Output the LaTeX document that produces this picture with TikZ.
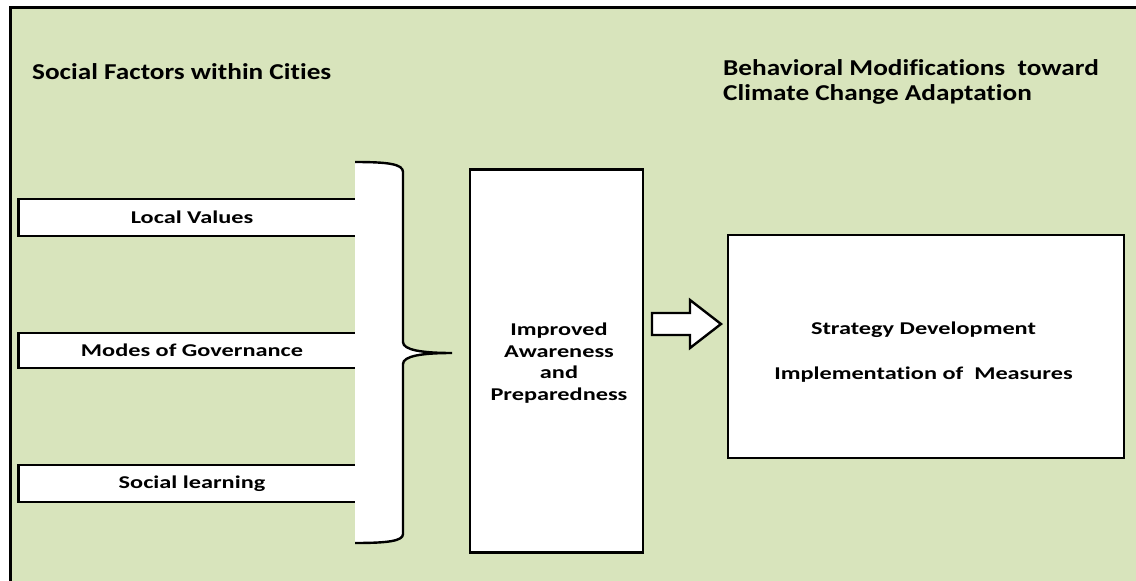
\documentclass[tikz,border=0pt]{standalone}
\usepackage{fontspec}
\setmainfont{Carlito}[FakeStretch=1.2, Ligatures=NoCommon]
\newfontfamily\boxfont{Carlito}[FakeStretch=1.35, Ligatures=NoCommon]
\definecolor{panel}{RGB}{216,228,188}
\begin{document}
\begin{tikzpicture}[x=1pt,y=-1pt,
  outline/.style={line width=2.4pt, line join=miter},
  box/.style={draw, fill=white, outline, inner sep=0pt},
  boxtext/.style={font=\boxfont\bfseries\fontsize{18}{21.7}\selectfont, align=center, inner sep=0pt},
  heading/.style={font=\bfseries\fontsize{22.7}{25}\selectfont, align=left, anchor=west, inner sep=0pt}]
\useasboundingbox (0,0) rectangle (1136,581);

% panel with its top and left border
\fill[panel] (10,7) rectangle (1136,581);
\draw[line width=3pt] (1136,7) -- (10,7) -- (10,581);

% headings
\node[heading] (hleft) at (32,72) {Social Factors within Cities};
\node[heading] (hright) at (723,82) {Behavioral Modifications\ \ toward\\Climate Change Adaptation};

% factor bars, open on the right where they run into the brace
\foreach \name/\top/\bot/\txt in {local/199/236/Local Values, gov/333/368/Modes of Governance, learn/465/502/Social learning}{
  \fill[white] (18,\top) rectangle (362,\bot);
  \draw[outline] (355,\top) -- (18,\top) -- (18,\bot) -- (355,\bot);
  \draw[line width=3.5pt] (18.5,\top) -- (18.5,\bot);
  \node[boxtext] (\name) at (192,{(\top+\bot)/2}) {\txt};
}

% brace gathering the factors
\fill[white] (355,162) .. controls (388,162) and (403,164) .. (403,172) -- (403,342)
  .. controls (403,350) and (422,353) .. (452,353)
  .. controls (422,353) and (403,356) .. (403,364) -- (403,534)
  .. controls (403,541) and (388,543) .. (355,543) -- cycle;
\draw[outline] (355,162) .. controls (388,162) and (403,164) .. (403,172) -- (403,342)
  .. controls (403,350) and (422,353) .. (452,353)
  .. controls (422,353) and (403,356) .. (403,364) -- (403,534)
  .. controls (403,541) and (388,543) .. (355,543);

% awareness box
\node[box, minimum width=173pt, minimum height=383pt] (aware) at (556.5,361) {};
\node[boxtext] (awaretext) at (559,363) {Improved\\Awareness\\and\\Preparedness};

% outcome box
\node[box, minimum width=396pt, minimum height=223pt] (strategy) at (926,346.5) {};
\node[boxtext, font=\boxfont\bfseries\fontsize{18}{22.5}\selectfont] (strategytext) at (923.5,352.5)
  {Strategy Development\\[22.5pt]Implementation of\ \ Measures};

% block arrow between the two boxes
\draw[outline, fill=white] (652,313) -- (690,313) -- (690,300) -- (721,324)
  -- (690,348) -- (690,335) -- (652,335) -- cycle;
\end{tikzpicture}
\end{document}
